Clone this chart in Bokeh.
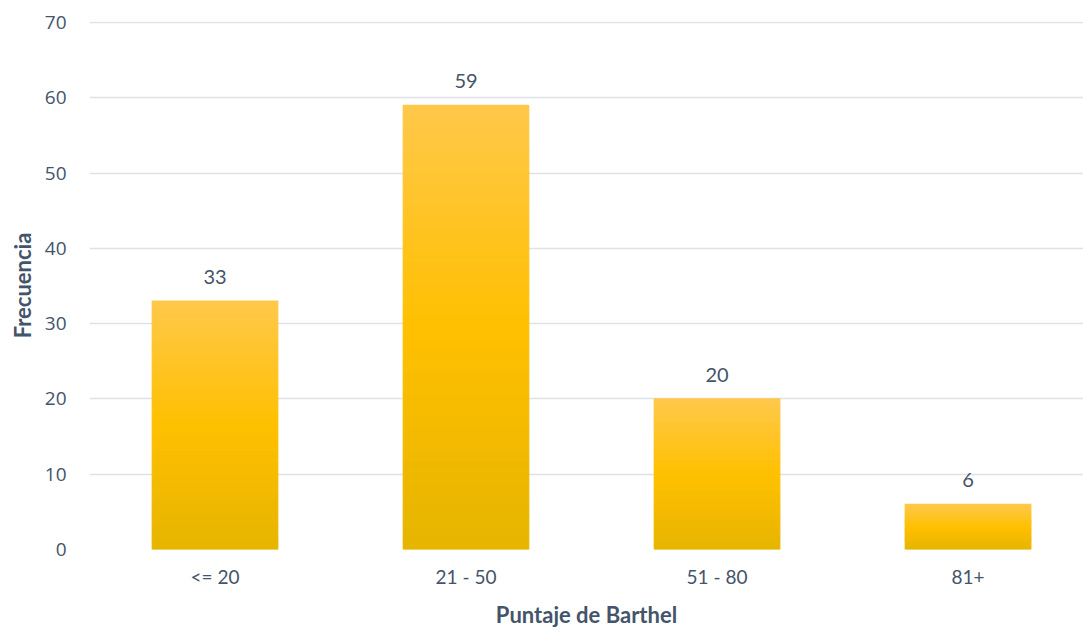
from bokeh.plotting import figure
from bokeh.models import Range1d, FixedTicker, ColumnDataSource
from bokeh.core.properties import value
from bokeh.embed import file_html
from bokeh.resources import INLINE

# Data
categories = ["<= 20", "21 - 50", "51 - 80", "81+"]
frecuencia = [33, 59, 20, 6]
y_ticks = [0, 10, 20, 30, 40, 50, 60, 70]

TEXT = "#44546A"
GRID = "#DEE2E8"
FONT = "Lato"

positions = list(range(1, len(categories) + 1))

p = figure(
    width=1083, height=630,
    output_backend="svg", toolbar_location=None,
    x_range=Range1d(0.5, 4.46), y_range=Range1d(0, 70.15),
    min_border_left=89, min_border_right=0,
    min_border_top=21, min_border_bottom=81,
)
p.outline_line_color = None
p.background_fill_color = "white"
p.border_fill_color = "white"

# Vertical gradient for each bar: light top, golden middle, darker base
def hex2rgb(h):
    h = h.lstrip("#")
    return tuple(int(h[i:i + 2], 16) for i in (0, 2, 4))

top_c = hex2rgb("#FFC84A")
mid_c = hex2rgb("#FFC000")
bot_c = hex2rgb("#E6B400")

def shade(t):
    if t < 0.5:
        a, b, f = bot_c, mid_c, t / 0.5
    else:
        a, b, f = mid_c, top_c, (t - 0.5) / 0.5
    r, g, bl = (round(a[i] + (b[i] - a[i]) * f) for i in range(3))
    return f"#{r:02x}{g:02x}{bl:02x}"

n_slices = 40
xs, bottoms, tops, colors = [], [], [], []
for x, v in zip(positions, frecuencia):
    for k in range(n_slices):
        xs.append(x)
        bottoms.append(v * k / n_slices)
        tops.append(v * (k + 1) / n_slices)
        colors.append(shade((k + 0.5) / n_slices))

slices = ColumnDataSource(dict(x=xs, bottom=bottoms, top=tops, color=colors))
p.vbar(x="x", bottom="bottom", top="top", width=0.5, source=slices,
       fill_color="color", line_color="color", line_width=1.2)

# Value labels above bars
labels = ColumnDataSource(dict(x=positions, y=frecuencia,
                               text=[str(v) for v in frecuencia]))
p.text(x="x", y="y", text="text", source=labels,
       text_align="center", text_baseline="bottom", y_offset=-17,
       text_font=value(FONT), text_font_size="20px", text_color=TEXT)

# Grid
p.xgrid.grid_line_color = None
p.ygrid.grid_line_color = GRID
p.ygrid.grid_line_width = 1.5
p.ygrid.ticker = FixedTicker(ticks=y_ticks)

# Y axis
ya = p.yaxis[0]
ya.ticker = FixedTicker(ticks=y_ticks)
ya.axis_line_color = None
ya.major_tick_line_color = None
ya.minor_tick_line_color = None
ya.major_tick_out = 0
ya.major_label_standoff = 23
ya.major_label_text_font = "Open Sans"
ya.major_label_text_font_size = "19px"
ya.major_label_text_color = TEXT
ya.axis_label = "Frecuencia"
ya.axis_label_text_font = FONT
ya.axis_label_text_font_style = "bold"
ya.axis_label_text_font_size = "22px"
ya.axis_label_text_color = TEXT
ya.axis_label_standoff = 6

# X axis
xa = p.xaxis[0]
xa.ticker = FixedTicker(ticks=positions)
xa.major_label_overrides = {x: c for x, c in zip(positions, categories)}
xa.axis_line_color = None
xa.major_tick_line_color = None
xa.minor_tick_line_color = None
xa.major_tick_out = 0
xa.major_label_standoff = 15
xa.major_label_text_font = FONT
xa.major_label_text_font_size = "19px"
xa.major_label_text_color = TEXT
xa.axis_label = "Puntaje de Barthel"
xa.axis_label_text_font = FONT
xa.axis_label_text_font_style = "bold"
xa.axis_label_text_font_size = "22px"
xa.axis_label_text_color = TEXT
xa.axis_label_standoff = 10

open("out.html", "w").write(file_html(p, INLINE))
